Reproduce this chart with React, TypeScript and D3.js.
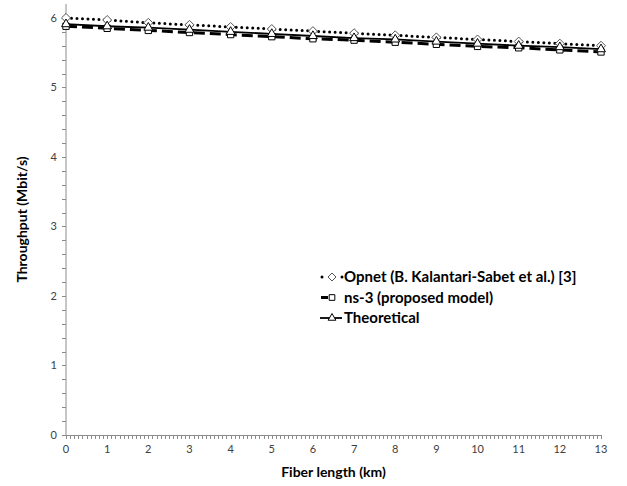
import React, { useEffect, useRef } from 'react';
import * as d3 from 'd3';

// Fiber length in km
const fiberLength = [0, 1, 2, 3, 4, 5, 6, 7, 8, 9, 10, 11, 12, 13];

// Throughput in Mbit/s
const opnetValues = [6.0, 5.97, 5.93, 5.9, 5.87, 5.84, 5.81, 5.78, 5.75, 5.72, 5.69, 5.66, 5.63, 5.6];
const ns3Values = [5.88, 5.85, 5.82, 5.79, 5.76, 5.73, 5.7, 5.68, 5.65, 5.62, 5.59, 5.57, 5.54, 5.51];
const theoryValues = [5.91, 5.88, 5.86, 5.83, 5.8, 5.77, 5.74, 5.71, 5.69, 5.66, 5.63, 5.6, 5.58, 5.55];

const seriesNames = ['Opnet (B. Kalantari-Sabet et al.) [3]', 'ns-3 (proposed model)', 'Theoretical'];
const yTicks = [0, 1, 2, 3, 4, 5, 6];

// square-ish diamond (d3's symbolDiamond is too tall)
const diamond = {
  draw(ctx: any, size: number) {
    const r = Math.sqrt(size / 2);
    ctx.moveTo(0, -r);
    ctx.lineTo(r, 0);
    ctx.lineTo(0, r);
    ctx.lineTo(-r, 0);
    ctx.closePath();
  },
};

const App = () => {
  const svgRef = useRef<SVGSVGElement>(null);

  useEffect(() => {
    const svg = d3.select(svgRef.current);
    svg.selectAll('*').remove();

    const width = 627;
    const height = 486;
    const margin = { top: 4, right: 26, bottom: 51, left: 66 };
    const axisColor = '#8c8c8c';
    const labelColor = '#404040';
    const font = 'Lato, "Open Sans", sans-serif';

    const x = d3.scaleLinear().domain([0, 13]).range([margin.left, width - margin.right]);
    const y = d3.scaleLinear().domain([0, 6.2]).range([height - margin.bottom, margin.top]);

    // y axis line + ticks
    const yAxis = svg.append('g');
    yAxis.append('line')
      .attr('x1', x(0)).attr('x2', x(0))
      .attr('y1', y(0)).attr('y2', y(6.2))
      .attr('stroke', axisColor);
    yAxis.selectAll('line.minor')
      .data(d3.range(0, 31).map(i => i * 0.2))
      .enter().append('line')
      .attr('class', 'minor')
      .attr('x1', x(0) - 4).attr('x2', x(0))
      .attr('y1', d => Math.round(y(d)) + 0.5).attr('y2', d => Math.round(y(d)) + 0.5)
      .attr('stroke', axisColor);
    yAxis.selectAll('text')
      .data(yTicks)
      .enter().append('text')
      .attr('x', x(0) - 9)
      .attr('y', d => y(d) + 4)
      .attr('text-anchor', 'end')
      .attr('fill', labelColor)
      .style('font-family', font)
      .style('font-size', '11px')
      .text(d => d);

    // x axis line + ticks
    const xAxis = svg.append('g');
    xAxis.append('line')
      .attr('x1', x(0)).attr('x2', x(13))
      .attr('y1', y(0) + 0.5).attr('y2', y(0) + 0.5)
      .attr('stroke', axisColor);
    xAxis.selectAll('line.minor')
      .data(d3.range(0, 131).map(i => i / 10))
      .enter().append('line')
      .attr('class', 'minor')
      .attr('x1', d => Math.round(x(d)) + 0.5).attr('x2', d => Math.round(x(d)) + 0.5)
      .attr('y1', y(0)).attr('y2', y(0) + 4)
      .attr('stroke', axisColor);
    xAxis.selectAll('text')
      .data(fiberLength)
      .enter().append('text')
      .attr('x', d => x(d))
      .attr('y', y(0) + 18)
      .attr('text-anchor', 'middle')
      .attr('fill', labelColor)
      .style('font-family', font)
      .style('font-size', '11px')
      .text(d => d);

    // axis titles
    svg.append('text')
      .attr('x', (x(0) + x(13)) / 2)
      .attr('y', 477)
      .attr('text-anchor', 'middle')
      .style('font-family', font)
      .style('font-weight', 'bold')
      .style('font-size', '14px')
      .text('Fiber length (km)');
    svg.append('text')
      .attr('transform', `translate(27,${(y(0) + y(6.2)) / 2}) rotate(-90)`)
      .attr('text-anchor', 'middle')
      .style('font-family', font)
      .style('font-weight', 'bold')
      .style('font-size', '14px')
      .text('Throughput (Mbit/s)');

    const line = d3.line<number>()
      .x((_, i) => x(fiberLength[i]))
      .y(d => y(d));

    const series = [
      { values: opnetValues, dash: '0 5.5', width: 3, cap: 'round', marker: diamond },
      { values: ns3Values, dash: '11 5', width: 3, cap: 'butt', marker: d3.symbolSquare },
      { values: theoryValues, dash: null, width: 1.8, cap: 'butt', marker: d3.symbolTriangle },
    ];

    const markerSize = [40, 40, 34];

    series.forEach(s => {
      svg.append('path')
        .datum(s.values)
        .attr('d', line)
        .attr('fill', 'none')
        .attr('stroke', '#000')
        .attr('stroke-width', s.width)
        .attr('stroke-linecap', s.cap)
        .attr('stroke-dasharray', s.dash);
    });

    series.forEach((s, si) => {
      svg.selectAll(`path.m${si}`)
        .data(s.values)
        .enter().append('path')
        .attr('class', `m${si}`)
        .attr('d', d3.symbol().type(s.marker as any).size(markerSize[si]))
        .attr('transform', (d, i) => `translate(${x(fiberLength[i])},${y(d)})`)
        .attr('fill', '#fff')
        .attr('stroke', si === 0 ? '#555' : '#000')
        .attr('stroke-width', 1);
    });

    // legend
    const legend = svg.append('g').attr('transform', 'translate(320,277)');
    series.forEach((s, si) => {
      const g = legend.append('g').attr('transform', `translate(0,${si * 20.5})`);
      if (si === 0) {
        g.append('line')
          .attr('x1', 2).attr('x2', 22).attr('y1', 0).attr('y2', 0)
          .attr('stroke', '#000').attr('stroke-width', 3)
          .attr('stroke-linecap', 'round').attr('stroke-dasharray', '0 20');
        g.append('line')
          .attr('x1', 22).attr('x2', 22).attr('y1', 0).attr('y2', 0)
          .attr('stroke', '#000').attr('stroke-width', 3)
          .attr('stroke-linecap', 'round');
      } else if (si === 1) {
        g.append('line')
          .attr('x1', 1).attr('x2', 8).attr('y1', 0).attr('y2', 0)
          .attr('stroke', '#000').attr('stroke-width', 3);
      } else {
        g.append('line')
          .attr('x1', 0).attr('x2', 22).attr('y1', 0).attr('y2', 0)
          .attr('stroke', '#000').attr('stroke-width', 1.8);
      }
      g.append('path')
        .attr('d', d3.symbol().type(s.marker as any).size(markerSize[si] - 8))
        .attr('transform', 'translate(12,0)')
        .attr('fill', '#fff')
        .attr('stroke', si === 0 ? '#555' : '#000')
        .attr('stroke-width', 1);
      g.append('text')
        .attr('x', 24)
        .attr('y', 5)
        .style('font-family', font)
        .style('font-weight', 'bold')
        .style('font-size', '15px')
        .text(seriesNames[si]);
    });
  }, []);

  return (
    <div style={{ position: 'fixed', top: 0, left: 0 }}>
      <svg ref={svgRef} width="627" height="486" style={{ display: 'block', background: '#fff' }}></svg>
    </div>
  );
};

export default App;
